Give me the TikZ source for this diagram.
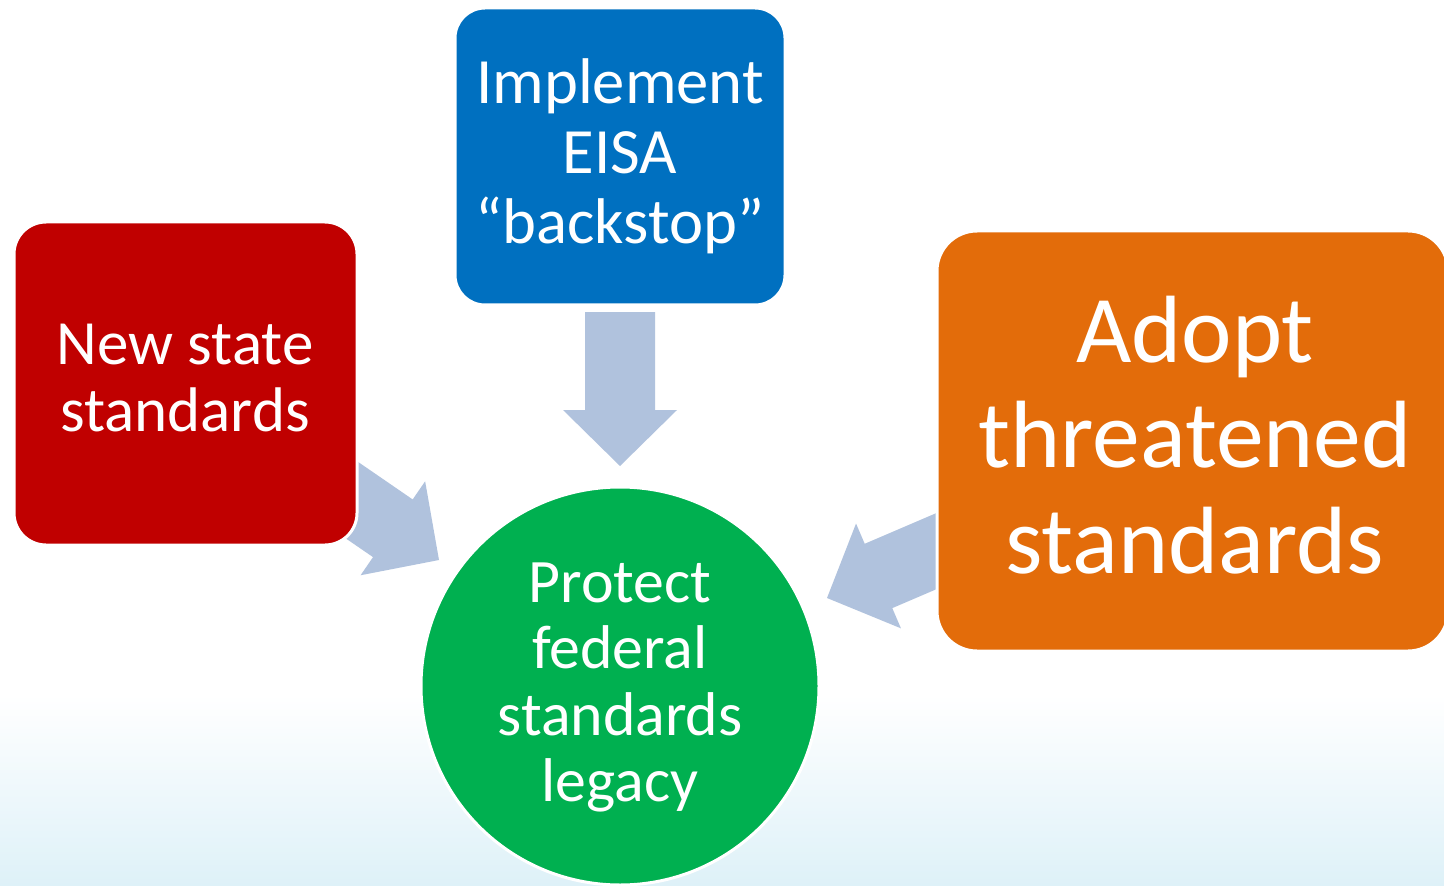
\documentclass[tikz,border=0pt]{standalone}
\usepackage{fontspec}
\setmainfont{Carlito}
\definecolor{redbox}{RGB}{192,0,0}
\definecolor{bluebox}{RGB}{0,112,192}
\definecolor{orangebox}{RGB}{227,108,10}
\definecolor{greenbox}{RGB}{0,176,80}
\definecolor{arrowblue}{RGB}{176,194,221}
\definecolor{bglight}{RGB}{222,241,248}
\tikzset{
  box/.style={draw=white, line width=1.5pt, inner sep=0pt},
  boxtext/.style={text=white, align=center, anchor=base, inner sep=0pt},
  blockarrow/.style={fill=arrowblue, draw=none},
}
\newcommand{\blockarr}[2]{%
  \begin{scope}[shift={#1}, rotate=#2]
    \fill[blockarrow] (0,0) -- (-56,57) -- (-56,35) -- (-154,35) -- (-154,-35) -- (-56,-35) -- (-56,-57) -- cycle;
  \end{scope}}
\begin{document}
\begin{tikzpicture}[x=0.5pt,y=0.5pt]
\useasboundingbox (0,0) rectangle (1444,885);
\fill[white] (0,0) rectangle (1444,885);
\shade[top color=white, bottom color=bglight] (0,0) rectangle (1444,190);
% block arrows
\blockarr{(620,419)}{-90}
\blockarr{(439,325)}{-34.5}
\blockarr{(827,287)}{203.2}
% boxes
\node[box, fill=redbox, rounded corners=16pt, minimum width=171.5pt, minimum height=161.5pt] (red) at (185.5,501.5) {};
\node[box, fill=bluebox, rounded corners=15pt, minimum width=165pt, minimum height=148.5pt] (blue) at (620,728.5) {};
\node[box, fill=orangebox, rounded corners=20pt, minimum width=255.5pt, minimum height=210pt] (orange) at (1192.5,444) {};
\node[box, fill=greenbox, circle, minimum size=199pt] (green) at (620,199) {};
% texts (base anchor = last line baseline)
\node[boxtext, font=\fontsize{31.5pt}{33.3pt}\selectfont] (redtext) at (185,454) {New state\\standards};
\node[boxtext, font=\fontsize{32.3pt}{35pt}\selectfont] (bluetext) at (620,641) {Implement\\EISA\\“backstop”};
\node[boxtext, font=\fontsize{47.8pt}{52.8pt}\selectfont] (orangetext) at (1195,311.7) {Adopt\\threatened\\standards};
\node[boxtext, font=\fontsize{30.9pt}{33.2pt}\selectfont] (greentext) at (620,83.3) {Protect\\federal\\standards\\legacy};
\end{tikzpicture}
\end{document}
